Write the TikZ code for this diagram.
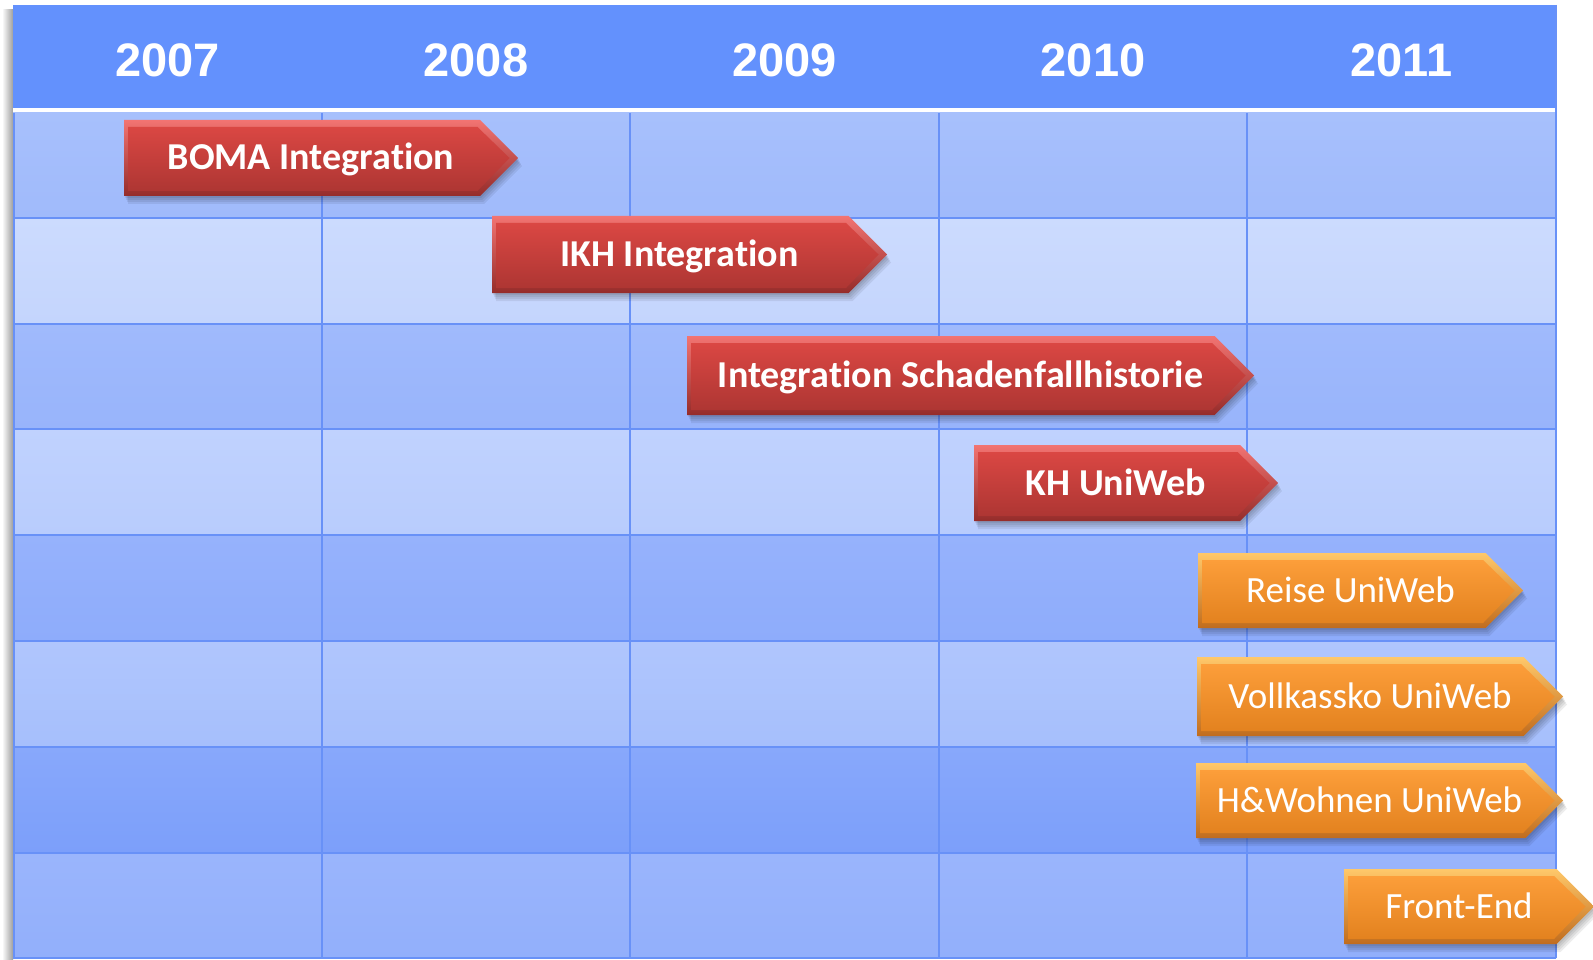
\documentclass[tikz,border=0pt]{standalone}
\usepackage{fontspec}
\newfontfamily\yearfont{Liberation Sans}
\newfontfamily\barfont{Carlito}[Ligatures={NoCommon}]
\newcommand\nolig{\kern0pt }
\definecolor{hdr}{HTML}{6391FD}
\definecolor{gridc}{HTML}{6891F7}
\definecolor{rdTop}{HTML}{F27472}
\definecolor{rdBot}{HTML}{952C2A}
\definecolor{rdInTop}{HTML}{DA4743}
\definecolor{rdInBot}{HTML}{AE3633}
\definecolor{ogTop}{HTML}{FFC86A}
\definecolor{ogBot}{HTML}{C06C1E}
\definecolor{ogInTop}{HTML}{FC9E3A}
\definecolor{ogInBot}{HTML}{E3821F}
\tikzset{
  gridline/.style={draw=gridc, line width=2pt},
  yearlabel/.style={text=white, font=\yearfont\bfseries\fontsize{47}{50}\selectfont, inner sep=0pt, anchor=base},
  boldbar/.style={text=white, font=\barfont\bfseries\fontsize{38}{40}\selectfont, inner sep=0pt, anchor=base},
  plainbar/.style={text=white, font=\barfont\fontsize{37}{40}\selectfont, inner sep=0pt, anchor=base},
}
\newcommand\ganttarrow[8]{%
  \pgfmathsetmacro\hh{(#5-#4)/2}%
  \pgfmathsetmacro\bx{#3-\hh}%
  \pgfmathsetmacro\my{(#4+#5)/2}%
  \pgfmathsetmacro\itx{#3-6*1.414}%
  \pgfmathsetmacro\ibx{\itx-(\hh-6)}%
  \foreach \dx/\dy in {1/2,2/4,3/6,4/8}{%
    \fill[black, opacity=0.07] ({#2+\dx},{#4+\dy}) -- ({\bx+\dx},{#4+\dy}) -- ({#3+\dx},{\my+\dy}) -- ({\bx+\dx},{#5+\dy}) -- ({#2+\dx},{#5+\dy}) -- cycle;
  }
  \shade[top color=#6Top, bottom color=#6Bot] (#2,#4) -- (\bx,#4) -- (#3,\my) -- (\bx,#5) -- (#2,#5) -- cycle;
  \shade[top color=#6InTop, bottom color=#6InBot] ({#2+4},{#4+7}) -- (\ibx,{#4+7}) -- (\itx,\my) -- (\ibx,{#5-5}) -- ({#2+4},{#5-5}) -- cycle;
  \node[#8] (#1) at ({(#2+#3)/2-10},{\my+12}) {#7};
}
\begin{document}
\begin{tikzpicture}[x=1pt,y=-1pt]
\useasboundingbox (0,0) rectangle (1593,960);
\fill[white] (0,0) rectangle (1593,960);
% left shadow of the table
\shade[left color=white, right color=black!38] (2,10) rectangle (13,960);
% header
\fill[hdr] (13,5) rectangle (1556,108);
\fill[white] (13,108) rectangle (1556,113);
% rows
\shade[top color={rgb,255:red,167;green,192;blue,252}, bottom color={rgb,255:red,160;green,186;blue,251}] (13,113) rectangle (1556,217.8);
\shade[top color={rgb,255:red,204;green,219;blue,254}, bottom color={rgb,255:red,196;green,213;blue,253}] (13,217.8) rectangle (1556,323.6);
\shade[top color={rgb,255:red,160;green,186;blue,252}, bottom color={rgb,255:red,152;green,180;blue,251}] (13,323.6) rectangle (1556,429.4);
\shade[top color={rgb,255:red,192;green,210;blue,254}, bottom color={rgb,255:red,184;green,204;blue,253}] (13,429.4) rectangle (1556,535.2);
\shade[top color={rgb,255:red,150;green,178;blue,252}, bottom color={rgb,255:red,142;green,172;blue,251}] (13,535.2) rectangle (1556,641);
\shade[top color={rgb,255:red,176;green,198;blue,253}, bottom color={rgb,255:red,166;green,191;blue,252}] (13,641) rectangle (1556,746.8);
\shade[top color={rgb,255:red,136;green,168;blue,251}, bottom color={rgb,255:red,124;green,159;blue,250}] (13,746.8) rectangle (1556,852.6);
\shade[top color={rgb,255:red,154;green,181;blue,252}, bottom color={rgb,255:red,146;green,175;blue,251}] (13,852.6) rectangle (1556,958.4);
% grid
\foreach \y in {217.8,323.6,429.4,535.2,641,746.8,852.6,958.4}
  \draw[gridline] (13,\y) -- (1556,\y);
\foreach \x in {321.6,630.2,938.8,1247.4}
  \draw[gridline] (\x,113) -- (\x,958.4);
\draw[gridline] (13.5,113) -- (13.5,958.4);
\draw[gridline] (1555.5,5) -- (1555.5,958.4);
% years
\node[yearlabel] (y2007) at (167.3,77) {2007};
\node[yearlabel] (y2008) at (475.9,77) {2008};
\node[yearlabel] (y2009) at (784.5,77) {2009};
\node[yearlabel] (y2010) at (1093.1,77) {2010};
\node[yearlabel] (y2011) at (1401.7,77) {2011};
% bars
\ganttarrow{boma}{124}{518}{120}{196}{rd}{BOMA Integra\nolig tion}{boldbar}
\ganttarrow{ikh}{492}{887}{216}{293}{rd}{IKH Integra\nolig tion}{boldbar}
\ganttarrow{schaden}{687}{1254}{336}{415}{rd}{Integra\nolig tion Schadenf\nolig allhistorie}{boldbar}
\ganttarrow{kh}{974}{1278}{445}{521}{rd}{KH UniWeb}{boldbar}
\ganttarrow{reise}{1198}{1523}{553}{628}{og}{Reise UniWeb}{plainbar}
\ganttarrow{vollkasko}{1197}{1563}{657}{736}{og}{Vollkassko UniWeb}{plainbar}
\ganttarrow{wohnen}{1196}{1563}{763}{838}{og}{H\&Wohnen UniWeb}{plainbar}
\ganttarrow{frontend}{1344}{1594}{869}{944}{og}{Front-End}{plainbar}
\end{tikzpicture}
\end{document}
